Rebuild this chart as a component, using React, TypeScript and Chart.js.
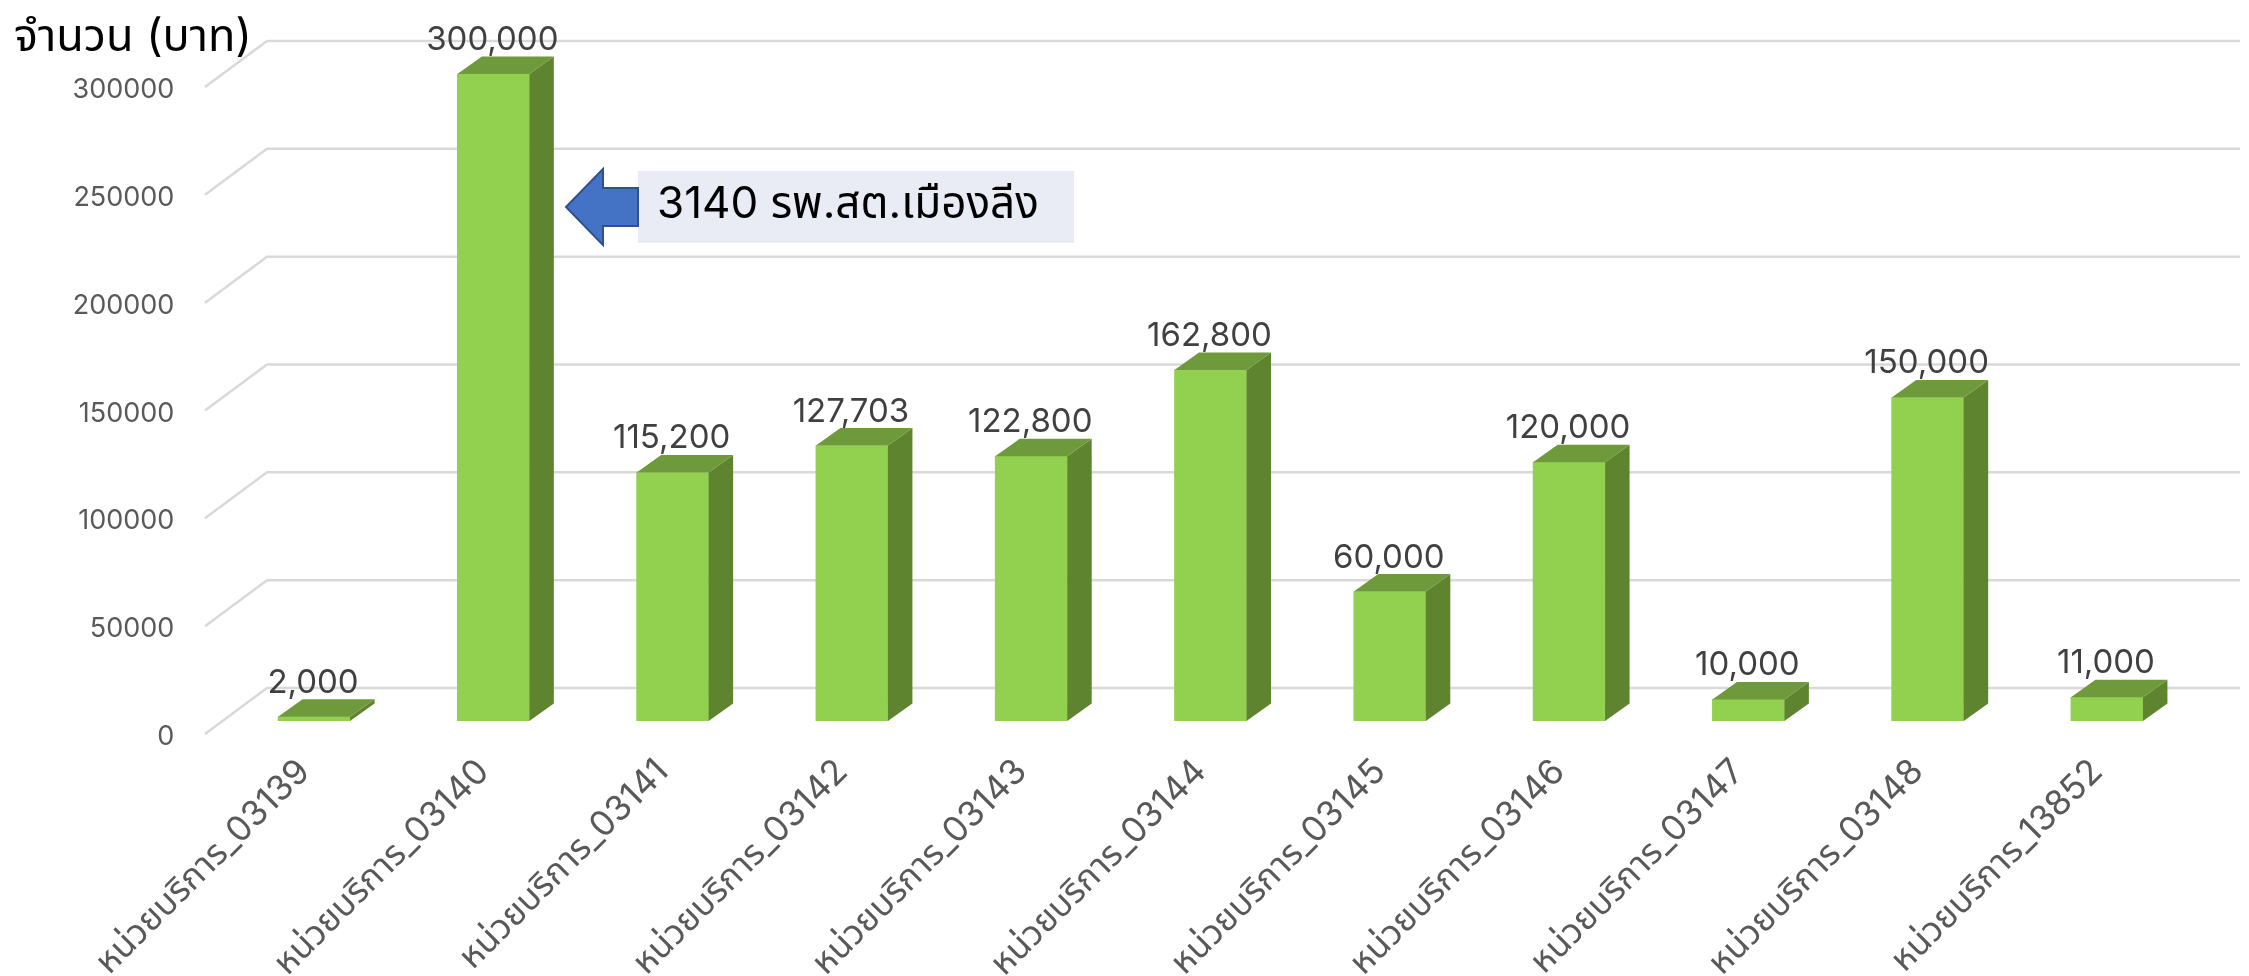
import React, { useEffect, useRef } from "react";
import { Chart, registerables } from "chart.js";

Chart.register(...registerables);

const categories = [
  "หน่วยบริการ_03139",
  "หน่วยบริการ_03140",
  "หน่วยบริการ_03141",
  "หน่วยบริการ_03142",
  "หน่วยบริการ_03143",
  "หน่วยบริการ_03144",
  "หน่วยบริการ_03145",
  "หน่วยบริการ_03146",
  "หน่วยบริการ_03147",
  "หน่วยบริการ_03148",
  "หน่วยบริการ_13852",
];
const amounts = [2000, 300000, 115200, 127703, 122800, 162800, 60000, 120000, 10000, 150000, 11000];
const yTitle = "จำนวน (บาท)";
const noteText = "3140 รพ.สต.เมืองลีง";

const FONT = 'Inter, "Noto Sans", "Noto Sans Thai", sans-serif';
const DEPTH_X = 24.5;
const DEPTH_Y = 17.5;

const scene3d = {
  id: "scene3d",
  beforeDatasetsDraw(chart: any) {
    const { ctx, scales } = chart;
    const y = scales.y;
    ctx.save();
    ctx.strokeStyle = "#D9D9D9";
    ctx.lineWidth = 2.5;
    y.ticks.forEach((t: any) => {
      const py = y.getPixelForValue(t.value);
      ctx.beginPath();
      ctx.moveTo(205, py + 13);
      ctx.lineTo(267, py - 33);
      ctx.lineTo(2240, py - 33);
      ctx.stroke();
    });
    ctx.restore();
  },
  afterDatasetsDraw(chart: any) {
    const { ctx } = chart;
    const meta = chart.getDatasetMeta(0);
    ctx.save();
    meta.data.forEach((bar: any, i: number) => {
      const half = bar.width / 2;
      const l = bar.x - half;
      const r = bar.x + half;
      const t = bar.y;
      const b = bar.base;
      ctx.fillStyle = "#5F8430";
      ctx.beginPath();
      ctx.moveTo(r, t);
      ctx.lineTo(r + DEPTH_X, t - DEPTH_Y);
      ctx.lineTo(r + DEPTH_X, b - DEPTH_Y);
      ctx.lineTo(r, b);
      ctx.closePath();
      ctx.fill();
      ctx.fillStyle = "#6F9A3C";
      ctx.beginPath();
      ctx.moveTo(l, t);
      ctx.lineTo(l + DEPTH_X, t - DEPTH_Y);
      ctx.lineTo(r + DEPTH_X, t - DEPTH_Y);
      ctx.lineTo(r, t);
      ctx.closePath();
      ctx.fill();
      ctx.fillStyle = "#404040";
      ctx.font = `33px ${FONT}`;
      ctx.textAlign = "center";
      ctx.textBaseline = "middle";
      ctx.fillText(amounts[i].toLocaleString("en-US"), bar.x - 1, t - 34);
    });
    ctx.restore();
  },
  afterDraw(chart: any) {
    const { ctx } = chart;
    ctx.save();
    ctx.fillStyle = "#000000";
    ctx.font = `45px ${FONT}`;
    ctx.textAlign = "left";
    ctx.textBaseline = "middle";
    ctx.fillText(yTitle, 14, 37);

    ctx.fillStyle = "#E9ECF5";
    ctx.fillRect(638, 171, 436, 72);
    ctx.fillStyle = "#000000";
    ctx.font = `44px ${FONT}`;
    ctx.fillText(noteText, 657, 205);

    ctx.fillStyle = "#4472C4";
    ctx.strokeStyle = "#2F528F";
    ctx.lineWidth = 2;
    ctx.beginPath();
    ctx.moveTo(566, 207);
    ctx.lineTo(603, 169);
    ctx.lineTo(603, 188);
    ctx.lineTo(638, 188);
    ctx.lineTo(638, 226);
    ctx.lineTo(603, 226);
    ctx.lineTo(603, 245);
    ctx.closePath();
    ctx.fill();
    ctx.stroke();
    ctx.restore();
  },
};

export default function App() {
  const ref = useRef<HTMLCanvasElement>(null);
  useEffect(() => {
    const chart = new Chart(ref.current as HTMLCanvasElement, {
      type: "bar",
      data: {
        labels: categories,
        datasets: [
          {
            label: "จำนวน",
            data: amounts,
            backgroundColor: "#92D050",
            barThickness: 72,
          },
        ],
      },
      options: {
        responsive: false,
        animation: false,
        events: [],
        layout: { autoPadding: false, padding: { left: 0, right: 52.4, top: 74, bottom: 0 } },
        plugins: { legend: { display: false }, tooltip: { enabled: false } },
        scales: {
          x: {
            grid: { display: false, drawTicks: false },
            border: { display: false },
            ticks: {
              color: "#595959",
              font: { size: 35, family: FONT },
              minRotation: 45,
              maxRotation: 45,
              padding: 30,
              labelOffset: -10,
              autoSkip: false,
            },
            afterFit(s: any) {
              s.height = 255;
            },
          },
          y: {
            min: 0,
            max: 300000,
            grid: { display: false, drawTicks: false },
            border: { display: false },
            ticks: {
              stepSize: 50000,
              color: "#595959",
              font: { size: 27, family: FONT },
              padding: 50,
              labelOffset: 16,
              callback: (v: any) => String(v),
            },
            afterFit(s: any) {
              s.width = 224.4;
            },
          },
        },
      },
      plugins: [scene3d],
    } as any);
    return () => chart.destroy();
  }, []);
  return (
    <div style={{ position: "absolute", left: 0, top: 0, width: 2249, height: 976, background: "#fff" }}>
      <canvas ref={ref} width={2249} height={976} style={{ display: "block" }} />
    </div>
  );
}
